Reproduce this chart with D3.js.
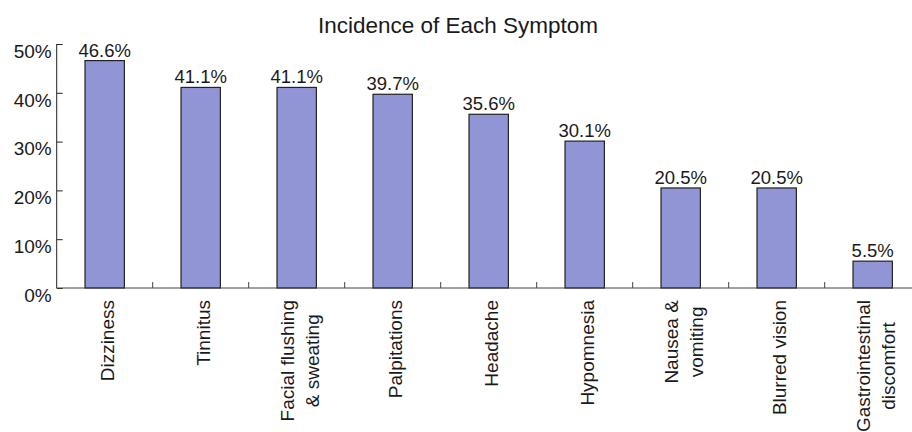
<!DOCTYPE html>
<html>
<head>
<meta charset="utf-8">
<script src="https://cdn.jsdelivr.net/npm/d3@7"></script>
<style>
  html, body { margin: 0; padding: 0; background: #fff; }
  svg { display: block; font-family: "Liberation Sans", Arial, Helvetica, sans-serif; }
</style>
</head>
<body>
<svg id="chart" width="912" height="432"></svg>
<script>
// Symptom categories (multi-line labels split with "\n")
const categories = [
  "Dizziness",
  "Tinnitus",
  "Facial flushing\n& sweating",
  "Palpitations",
  "Headache",
  "Hypomnesia",
  "Nausea &\nvomiting",
  "Blurred vision",
  "Gastrointestinal\ndiscomfort"
];
// Incidence in percent
const incidence = [46.6, 41.1, 41.1, 39.7, 35.6, 30.1, 20.5, 20.5, 5.5];
const yTicks = [0, 10, 20, 30, 40, 50];
const title = "Incidence of Each Symptom";

const svg = d3.select("#chart");
const plotLeft = 56.7, bandW = 96, plotTop = 44, plotBottom = 288;

const x = d3.scaleBand()
  .domain(categories)
  .range([plotLeft, plotLeft + bandW * categories.length])
  .padding(0);

const y = d3.scaleLinear().domain([0, 50]).range([plotBottom, plotTop]);

const barW = x.bandwidth() * 0.41;

// Title
svg.append("text")
  .attr("x", 458).attr("y", 33)
  .attr("text-anchor", "middle")
  .attr("font-size", 22.5)
  .attr("fill", "#1a1a1a")
  .text(title);

// Bars
svg.append("g").selectAll("rect")
  .data(categories)
  .join("rect")
  .attr("x", (d) => x(d) + x.bandwidth() / 2 - barW / 2)
  .attr("y", (d, i) => y(incidence[i]))
  .attr("width", barW)
  .attr("height", (d, i) => y(0) - y(incidence[i]))
  .attr("fill", "#9195d5")
  .attr("stroke", "#222")
  .attr("stroke-width", 1.2);

// Value labels
svg.append("g").selectAll("text")
  .data(categories)
  .join("text")
  .attr("x", (d) => x(d) + x.bandwidth() / 2)
  .attr("y", (d, i) => y(incidence[i]) - 4)
  .attr("text-anchor", "middle")
  .attr("font-size", 18.5)
  .attr("fill", "#1a1a1a")
  .text((d, i) => incidence[i].toFixed(1) + "%");

// Y axis
const yAxis = d3.axisLeft(y)
  .tickValues(yTicks)
  .tickSize(-6)
  .tickPadding(5)
  .tickFormat((d) => d + "%");
const gy = svg.append("g").attr("transform", `translate(${plotLeft},0)`).call(yAxis);
gy.select(".domain").attr("stroke", "#222").attr("d", `M0,${plotTop}V${plotBottom}`);
gy.selectAll(".tick line").attr("stroke", "#222");
gy.selectAll(".tick text")
  .attr("font-size", 19)
  .attr("font-family", "Liberation Sans, Arial, sans-serif")
  .attr("fill", "#1a1a1a")
  .attr("dy", "0.7em");

// X axis: line with ticks at category boundaries
const gx = svg.append("g");
gx.append("line")
  .attr("x1", plotLeft).attr("x2", 912)
  .attr("y1", plotBottom).attr("y2", plotBottom)
  .attr("stroke", "#444").attr("stroke-width", 1);
gx.selectAll("line.tick")
  .data(categories.slice(1))
  .join("line")
  .attr("class", "tick")
  .attr("x1", (d) => x(d)).attr("x2", (d) => x(d))
  .attr("y1", plotBottom).attr("y2", plotBottom - 6)
  .attr("stroke", "#444");

// Rotated category labels
const lineH = 25;
const labels = gx.selectAll("g.lab")
  .data(categories)
  .join("g")
  .attr("class", "lab")
  .attr("transform", (d) => `translate(${x(d) + x.bandwidth() / 2 + 3},300) rotate(-90)`);

labels.each(function (d) {
  const lines = d.split("\n");
  const g = d3.select(this);
  const t = g.append("text")
    .attr("font-size", 19)
    .attr("fill", "#1a1a1a")
    .attr("text-anchor", lines.length > 1 ? "middle" : "end");
  lines.forEach((ln, k) => {
    t.append("tspan")
      .attr("x", 0)
      .attr("y", (k - (lines.length - 1) / 2) * lineH)
      .attr("dy", "0.35em")
      .text(ln);
  });
  if (lines.length > 1) {
    // shift the block so its longest line ends at the axis-side edge
    const w = t.node().getBBox().width;
    t.selectAll("tspan").attr("x", -w / 2);
  }
});
</script>
</body>
</html>
